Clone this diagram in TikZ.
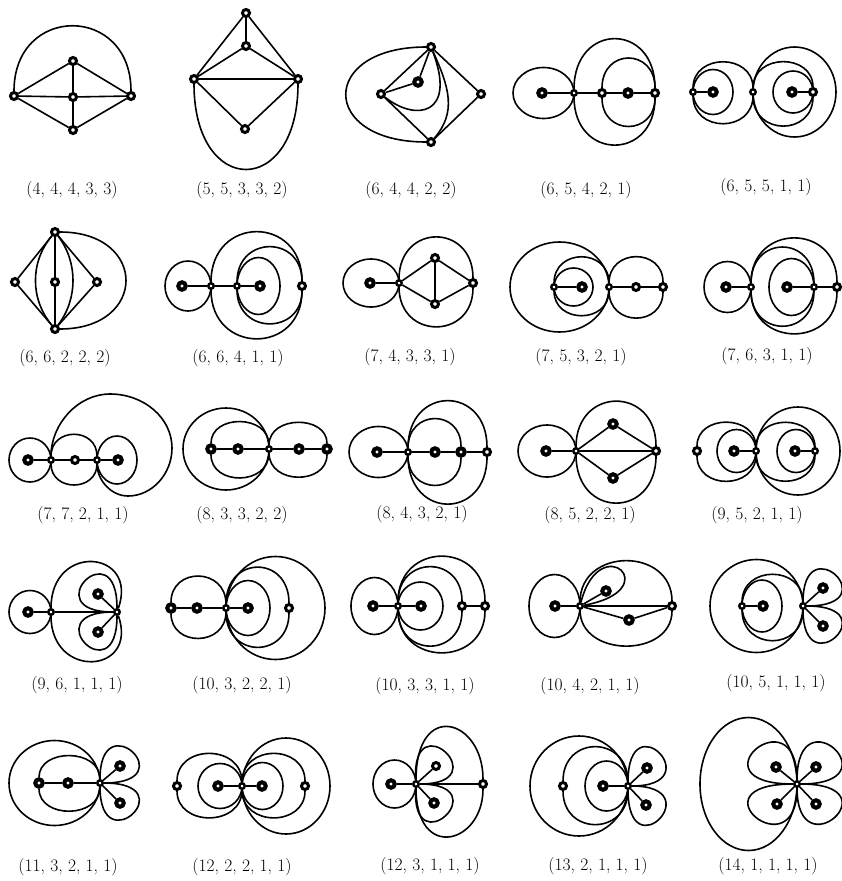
\documentclass[tikz,border=0pt]{standalone}
\pgfdeclarelayer{edges}
\pgfsetlayers{edges,main}
\begin{document}
\begin{tikzpicture}[x=1pt,y=-1pt,
    every path/.style={line width=1.6pt},
    vtx/.style={circle,draw,fill=white,line width=3pt,inner sep=0pt,minimum size=7pt},
    leaf/.style={vtx,line width=4pt,minimum size=7.5pt},
    hub/.style={vtx,line width=2.4pt,minimum size=5.5pt},
    lbl/.style={font=\fontsize{17.5}{21}\selectfont}]
  \useasboundingbox (0,0) rectangle (841,881);

  % (4, 4, 4, 3, 3)
  \node[vtx] (v1l) at (14,96) {};
  \node[vtx] (v1t) at (73,61) {};
  \node[vtx] (v1c) at (73,97) {};
  \node[vtx] (v1r) at (131,96) {};
  \node[vtx] (v1b) at (73,130) {};
  \node[lbl] (t1) at (72,190) {(4, 4, 4, 3, 3)};
  \begin{pgfonlayer}{edges}
    \draw (v1l) -- (v1t) -- (v1r) -- (v1b) -- (v1l) -- (v1c) -- (v1r);
    \draw (v1t) -- (v1c) -- (v1b);
    \draw (v1l) .. controls +(0,-92) and +(0,-92) .. (v1r);
  \end{pgfonlayer}

  % (5, 5, 3, 3, 2)
  \node[vtx] (v2t) at (246,13) {};
  \node[vtx] (v2m) at (246,46) {};
  \node[vtx] (v2l) at (194,79) {};
  \node[vtx] (v2r) at (298,79) {};
  \node[vtx] (v2b) at (245,129) {};
  \node[lbl] (t2) at (242,190) {(5, 5, 3, 3, 2)};
  \begin{pgfonlayer}{edges}
    \draw (v2l) -- (v2t) -- (v2r) -- (v2m) -- (v2l) -- (v2r) -- (v2b) -- (v2l);
    \draw (v2t) -- (v2m);
    \draw (v2l) .. controls +(0,119) and +(0,119) .. (v2r);
  \end{pgfonlayer}

  % (6, 4, 4, 2, 2)
  \node[vtx] (v3t) at (431,47) {};
  \node[leaf] (v3i) at (418,82) {};
  \node[vtx] (v3l) at (381,94) {};
  \node[vtx] (v3r) at (481,94) {};
  \node[vtx] (v3b) at (431,142) {};
  \node[lbl] (t3) at (411,190) {(6, 4, 4, 2, 2)};
  \begin{pgfonlayer}{edges}
    \draw (v3l) -- (v3t) -- (v3r) -- (v3b) -- (v3l) -- (v3i) -- (v3t);
    \draw (v3l) .. controls +(35,28) and +(26,68) .. (v3t);
    \draw (v3t) .. controls +(18,40) and +(26,-30) .. (v3b);
    \draw (v3t) .. controls +(-112,0) and +(-112,0) .. (v3b);
  \end{pgfonlayer}

  % (6, 5, 4, 2, 1)
  \node[leaf] (v4a) at (542,93) {};
  \node[hub] (v4b) at (574,93) {};
  \node[vtx] (v4c) at (602,93) {};
  \node[leaf] (v4d) at (628,93) {};
  \node[vtx] (v4e) at (655,93) {};
  \node[lbl] (t4) at (586,190) {(6, 5, 4, 2, 1)};
  \begin{pgfonlayer}{edges}
    \draw (v4a) -- (v4b) -- (v4c) -- (v4d) -- (v4e);
    \draw (v4b.center) arc[start angle=0,delta angle=360,x radius=30.5,y radius=25.5];
    \draw (v4b) .. controls +(0,-71) and +(0,-71) .. (v4e);
    \draw (v4b) .. controls +(0,68) and +(0,68) .. (v4e);
    \draw (v4c) .. controls +(0,-45) and +(0,-45) .. (v4e);
    \draw (v4c) .. controls +(0,43) and +(0,43) .. (v4e);
  \end{pgfonlayer}

  % (6, 5, 5, 1, 1)
  \node[hub] (v5a) at (693,92) {};
  \node[leaf] (v5b) at (713,92) {};
  \node[hub] (v5c) at (753,92) {};
  \node[leaf] (v5d) at (792,92) {};
  \node[vtx] (v5e) at (813,92) {};
  \node[lbl] (t5) at (766,187) {(6, 5, 5, 1, 1)};
  \begin{pgfonlayer}{edges}
    \draw (v5a) -- (v5b);
    \draw (v5d) -- (v5e);
    \draw (v5a.center) arc[start angle=180,delta angle=360,x radius=20,y radius=22.5];
    \draw (v5a) .. controls +(0,-39) and +(0,-39) .. (v5c);
    \draw (v5a) .. controls +(0,41) and +(0,41) .. (v5c);
    \draw (v5e.center) arc[start angle=0,delta angle=360,x radius=20,y radius=21];
    \draw (v5c) .. controls +(0,-39) and +(0,-39) .. (v5e);
    \draw (v5c) .. controls +(0,44) and +(0,44) .. (v5e);
    \draw (v5c.center) arc[start angle=180,delta angle=360,x radius=41.5,y radius=45];
  \end{pgfonlayer}

  % (6, 6, 2, 2, 2)
  \node[vtx] (v6t) at (55,232) {};
  \node[vtx] (v6b) at (55,329) {};
  \node[vtx] (v6l) at (15,282) {};
  \node[vtx] (v6m) at (55,282) {};
  \node[vtx] (v6r) at (97,282) {};
  \node[lbl] (t6) at (65,358) {(6, 6, 2, 2, 2)};
  \begin{pgfonlayer}{edges}
    \draw (v6t) -- (v6l) -- (v6b) -- (v6r) -- (v6t) -- (v6m) -- (v6b);
    \draw (v6t) .. controls +(-25,30) and +(-25,-30) .. (v6b);
    \draw (v6t) .. controls +(23,30) and +(23,-30) .. (v6b);
    \draw (v6t) .. controls +(93,0) and +(93,0) .. (v6b);
  \end{pgfonlayer}

  % (6, 6, 4, 1, 1)
  \node[leaf] (v7a) at (182,286) {};
  \node[hub] (v7b) at (211,286) {};
  \node[hub] (v7c) at (237,286) {};
  \node[leaf] (v7d) at (260,286) {};
  \node[vtx] (v7e) at (302,286) {};
  \node[lbl] (t7) at (238,358) {(6, 6, 4, 1, 1)};
  \begin{pgfonlayer}{edges}
    \draw (v7a) -- (v7b) -- (v7c) -- (v7d);
    \draw (v7b.center) arc[start angle=0,delta angle=360,x radius=23,y radius=25];
    \draw (v7b) .. controls +(0,-71) and +(0,-71) .. (v7e);
    \draw (v7b) .. controls +(0,69) and +(0,69) .. (v7e);
    \draw (v7c) .. controls +(0,-51) and +(0,-51) .. (v7e);
    \draw (v7c) .. controls +(0,49) and +(0,49) .. (v7e);
    \draw (v7c.center) arc[start angle=180,delta angle=360,x radius=21.5,y radius=28.5];
  \end{pgfonlayer}

  % (7, 4, 3, 3, 1)
  \node[leaf] (v8a) at (370,283) {};
  \node[hub] (v8b) at (399,283) {};
  \node[vtx] (v8t) at (435,258) {};
  \node[vtx] (v8o) at (435,304) {};
  \node[vtx] (v8r) at (473,283) {};
  \node[lbl] (t8) at (410,357) {(7, 4, 3, 3, 1)};
  \begin{pgfonlayer}{edges}
    \draw (v8a) -- (v8b) -- (v8t) -- (v8r) -- (v8o) -- (v8b);
    \draw (v8t) -- (v8o);
    \draw (v8b.center) arc[start angle=0,delta angle=360,x radius=28,y radius=24];
    \draw (v8b) .. controls +(0,-60) and +(0,-60) .. (v8r);
    \draw (v8b) .. controls +(0,57) and +(0,57) .. (v8r);
  \end{pgfonlayer}

  % (7, 5, 3, 2, 1)
  \node[hub] (v9a) at (554,287) {};
  \node[leaf] (v9b) at (582,287) {};
  \node[hub] (v9c) at (609,287) {};
  \node[vtx] (v9d) at (636,287) {};
  \node[vtx] (v9e) at (663,287) {};
  \node[lbl] (t9) at (581,357) {(7, 5, 3, 2, 1)};
  \begin{pgfonlayer}{edges}
    \draw (v9a) -- (v9b);
    \draw (v9c) -- (v9d) -- (v9e);
    \draw (v9c.center) arc[start angle=0,delta angle=360,x radius=49.5,y radius=45];
    \draw (v9a) .. controls +(0,-39) and +(0,-39) .. (v9c);
    \draw (v9a) .. controls +(0,37) and +(0,37) .. (v9c);
    \draw (v9a.center) arc[start angle=180,delta angle=360,x radius=19.5,y radius=19];
    \draw (v9c) .. controls +(0,-39) and +(0,-39) .. (v9e);
    \draw (v9c) .. controls +(0,40) and +(0,40) .. (v9e);
  \end{pgfonlayer}

  % (7, 6, 3, 1, 1)
  \node[leaf] (v10a) at (726,287) {};
  \node[hub] (v10b) at (751,287) {};
  \node[leaf] (v10c) at (787,287) {};
  \node[hub] (v10d) at (814,287) {};
  \node[vtx] (v10e) at (837,287) {};
  \node[lbl] (t10) at (767,356) {(7, 6, 3, 1, 1)};
  \begin{pgfonlayer}{edges}
    \draw (v10a) -- (v10b);
    \draw (v10c) -- (v10d) -- (v10e);
    \draw (v10b.center) arc[start angle=0,delta angle=360,x radius=23.5,y radius=25.5];
    \draw (v10b) .. controls +(0,-64) and +(0,-64) .. (v10e);
    \draw (v10b) .. controls +(0,61) and +(0,61) .. (v10e);
    \draw (v10b) .. controls +(0,-52) and +(0,-52) .. (v10d);
    \draw (v10b) .. controls +(0,51) and +(0,51) .. (v10d);
    \draw (v10d.center) arc[start angle=0,delta angle=360,x radius=22.5,y radius=28.5];
  \end{pgfonlayer}

  % (7, 7, 2, 1, 1)
  \node[leaf] (v11a) at (28,460) {};
  \node[hub] (v11b) at (51,460) {};
  \node[vtx] (v11c) at (75,460) {};
  \node[hub] (v11d) at (97,460) {};
  \node[leaf] (v11e) at (118,460) {};
  \node[lbl] (t11) at (83,515) {(7, 7, 2, 1, 1)};
  \begin{pgfonlayer}{edges}
    \draw (v11a) -- (v11b) -- (v11c) -- (v11d) -- (v11e);
    \draw (v11b.center) arc[start angle=0,delta angle=360,x radius=21,y radius=22];
    \draw (v11b) .. controls +(0,-33) and +(0,-33) .. (v11d);
    \draw (v11b) .. controls +(0,32) and +(0,32) .. (v11d);
    \draw (v11d.center) arc[start angle=180,delta angle=360,x radius=20,y radius=24];
    \draw (v11b) .. controls +(0,-36) and +(-32,0) .. (110,394)
      .. controls +(34,0) and +(0,-30) .. (172,448)
      .. controls +(0,26) and +(24,0) .. (128,496)
      .. controls +(-17,0) and +(0,20) .. (v11d);
  \end{pgfonlayer}

  % (8, 3, 3, 2, 2)
  \node[leaf] (v12a) at (211,449) {};
  \node[leaf] (v12b) at (238,449) {};
  \node[hub] (v12c) at (269,449) {};
  \node[leaf] (v12d) at (299,449) {};
  \node[leaf] (v12e) at (327,449) {};
  \node[lbl] (t12) at (242,515) {(8, 3, 3, 2, 2)};
  \begin{pgfonlayer}{edges}
    \draw (v12a) -- (v12b) -- (v12c) -- (v12d) -- (v12e);
    \draw (v12c.center) arc[start angle=0,delta angle=360,x radius=43,y radius=41];
    \draw (v12a) .. controls +(0,-35) and +(0,-35) .. (v12c);
    \draw (v12a) .. controls +(0,37) and +(0,37) .. (v12c);
    \draw (v12c) .. controls +(0,-34) and +(0,-34) .. (v12e);
    \draw (v12c) .. controls +(0,36) and +(0,36) .. (v12e);
  \end{pgfonlayer}

  % (8, 4, 3, 2, 1)
  \node[leaf] (v13a) at (377,452) {};
  \node[hub] (v13b) at (408,452) {};
  \node[leaf] (v13c) at (435,452) {};
  \node[leaf] (v13d) at (461,452) {};
  \node[vtx] (v13e) at (487,452) {};
  \node[lbl] (t13) at (422,514) {(8, 4, 3, 2, 1)};
  \begin{pgfonlayer}{edges}
    \draw (v13a) -- (v13b) -- (v13c) -- (v13d) -- (v13e);
    \draw (v13b.center) arc[start angle=0,delta angle=360,x radius=29.5,y radius=25.5];
    \draw (v13b) .. controls +(0,-43) and +(0,-43) .. (v13d);
    \draw (v13b) .. controls +(0,43) and +(0,43) .. (v13d);
    \draw (v13b) .. controls +(0,-67) and +(0,-67) .. (v13e);
    \draw (v13b) .. controls +(0,68) and +(0,68) .. (v13e);
  \end{pgfonlayer}

  % (8, 5, 2, 2, 1)
  \node[leaf] (v14a) at (546,451) {};
  \node[hub] (v14b) at (576,451) {};
  \node[leaf] (v14t) at (613,424) {};
  \node[leaf] (v14o) at (613,478) {};
  \node[vtx] (v14r) at (656,451) {};
  \node[lbl] (t14) at (590,515) {(8, 5, 2, 2, 1)};
  \begin{pgfonlayer}{edges}
    \draw (v14a) -- (v14b) -- (v14r);
    \draw (v14b) -- (v14t) -- (v14r) -- (v14o) -- (v14b);
    \draw (v14b.center) arc[start angle=0,delta angle=360,x radius=29,y radius=26];
    \draw (v14b) .. controls +(0,-65) and +(0,-65) .. (v14r);
    \draw (v14b) .. controls +(0,68) and +(0,68) .. (v14r);
  \end{pgfonlayer}

  % (9, 5, 2, 1, 1)
  \node[vtx] (v15a) at (697,451) {};
  \node[leaf] (v15b) at (734,451) {};
  \node[hub] (v15c) at (756,451) {};
  \node[leaf] (v15d) at (795,451) {};
  \node[hub] (v15e) at (815,451) {};
  \node[lbl] (t15) at (757,515) {(9, 5, 2, 1, 1)};
  \begin{pgfonlayer}{edges}
    \draw (v15b) -- (v15c);
    \draw (v15d) -- (v15e);
    \draw (v15a) .. controls +(0,-37) and +(0,-37) .. (v15c);
    \draw (v15a) .. controls +(0,39) and +(0,39) .. (v15c);
    \draw (v15c.center) arc[start angle=0,delta angle=360,x radius=19.5,y radius=21.5];
    \draw (v15c.center) arc[start angle=180,delta angle=360,x radius=42,y radius=44];
    \draw (v15c) .. controls +(0,-37) and +(0,-37) .. (v15e);
    \draw (v15c) .. controls +(0,39) and +(0,39) .. (v15e);
    \draw (v15e.center) arc[start angle=0,delta angle=360,x radius=19,y radius=21.5];
  \end{pgfonlayer}

  % (9, 6, 1, 1, 1)
  \node[leaf] (v16a) at (28,612) {};
  \node[hub] (v16b) at (51,612) {};
  \node[hub] (v16c) at (117,612) {};
  \node[leaf] (v16p) at (98,594) {};
  \node[leaf] (v16q) at (98,632) {};
  \node[lbl] (t16) at (77,685) {(9, 6, 1, 1, 1)};
  \begin{pgfonlayer}{edges}
    \draw (v16a) -- (v16b) -- (v16c);
    \draw (v16c) -- (v16p);
    \draw (v16c) -- (v16q);
    \draw (v16b.center) arc[start angle=0,delta angle=360,x radius=21,y radius=21.5];
    \draw (v16b) .. controls +(0,-70) and +(22,-62) .. (v16c);
    \draw (v16b) .. controls +(0,68) and +(22,62) .. (v16c);
    \draw (v16c) .. controls +(-83,0) and +(0,-83) .. (v16c);
    \draw (v16c) .. controls +(-83,0) and +(0,83) .. (v16c);
  \end{pgfonlayer}

  % (10, 3, 2, 2, 1)
  \node[leaf] (v17a) at (171,608) {};
  \node[leaf] (v17b) at (197,608) {};
  \node[hub] (v17c) at (226,608) {};
  \node[leaf] (v17d) at (248,608) {};
  \node[vtx] (v17e) at (289,608) {};
  \node[lbl] (t17) at (242,685) {(10, 3, 2, 2, 1)};
  \begin{pgfonlayer}{edges}
    \draw (v17a) -- (v17b) -- (v17c) -- (v17d);
    \draw (v17a) .. controls +(0,-41) and +(0,-41) .. (v17c);
    \draw (v17a) .. controls +(0,39) and +(0,39) .. (v17c);
    \draw (v17c.center) arc[start angle=180,delta angle=360,x radius=22,y radius=27.5];
    \draw (v17c) .. controls +(0,-53) and +(0,-53) .. (v17e);
    \draw (v17c) .. controls +(0,51) and +(0,51) .. (v17e);
    \draw (v17c.center) arc[start angle=180,delta angle=360,x radius=49.5,y radius=51.5];
  \end{pgfonlayer}

  % (10, 3, 3, 1, 1)
  \node[leaf] (v18a) at (373,606) {};
  \node[hub] (v18b) at (398,606) {};
  \node[leaf] (v18c) at (421,606) {};
  \node[vtx] (v18d) at (462,606) {};
  \node[vtx] (v18e) at (485,606) {};
  \node[lbl] (t18) at (425,686) {(10, 3, 3, 1, 1)};
  \begin{pgfonlayer}{edges}
    \draw (v18a) -- (v18b) -- (v18c);
    \draw (v18d) -- (v18e);
    \draw (v18b.center) arc[start angle=0,delta angle=360,x radius=23.5,y radius=28.5];
    \draw (v18b.center) arc[start angle=180,delta angle=360,x radius=22.5,y radius=24];
    \draw (v18b) .. controls +(0,-51) and +(0,-51) .. (v18d);
    \draw (v18b) .. controls +(0,52) and +(0,52) .. (v18d);
    \draw (v18b) .. controls +(0,-65) and +(0,-65) .. (v18e);
    \draw (v18b) .. controls +(0,61) and +(0,61) .. (v18e);
  \end{pgfonlayer}

  % (10, 4, 2, 1, 1)
  \node[leaf] (v19a) at (555,606) {};
  \node[hub] (v19b) at (580,606) {};
  \node[leaf] (v19p) at (606,591) {};
  \node[leaf] (v19q) at (629,620) {};
  \node[vtx] (v19r) at (672,606) {};
  \node[lbl] (t19) at (590,686) {(10, 4, 2, 1, 1)};
  \begin{pgfonlayer}{edges}
    \draw (v19a) -- (v19b) -- (v19r);
    \draw (v19b) -- (v19p);
    \draw (v19b) -- (v19q) -- (v19r);
    \draw (v19b.center) arc[start angle=0,delta angle=360,x radius=25.5,y radius=31.5];
    \draw (v19b) .. controls +(20,-78) and +(88,-16) .. (v19b);
    \draw (v19b) .. controls +(0,-59) and +(0,-59) .. (v19r);
    \draw (v19b) .. controls +(0,52) and +(0,52) .. (v19r);
  \end{pgfonlayer}

  % (10, 5, 1, 1, 1)
  \node[hub] (v20a) at (742,606) {};
  \node[leaf] (v20b) at (763,606) {};
  \node[hub] (v20c) at (803,606) {};
  \node[leaf] (v20p) at (823,588) {};
  \node[leaf] (v20q) at (823,626) {};
  \node[lbl] (t20) at (776,683) {(10, 5, 1, 1, 1)};
  \begin{pgfonlayer}{edges}
    \draw (v20a) -- (v20b);
    \draw (v20c) -- (v20p);
    \draw (v20c) -- (v20q);
    \draw (v20a.center) arc[start angle=180,delta angle=360,x radius=20,y radius=26];
    \draw (v20a) .. controls +(0,-41) and +(0,-41) .. (v20c);
    \draw (v20a) .. controls +(0,45) and +(0,45) .. (v20c);
    \draw (v20c.center) arc[start angle=0,delta angle=360,x radius=46.5,y radius=46.5];
    \draw (v20c) .. controls +(0,-81) and +(86,0) .. (v20c);
    \draw (v20c) .. controls +(0,81) and +(86,0) .. (v20c);
  \end{pgfonlayer}

  % (11, 3, 2, 1, 1)
  \node[leaf] (v21a) at (39,783) {};
  \node[leaf] (v21b) at (68,783) {};
  \node[hub] (v21c) at (100,783) {};
  \node[leaf] (v21p) at (120,766) {};
  \node[leaf] (v21q) at (120,803) {};
  \node[lbl] (t21) at (68,867) {(11, 3, 2, 1, 1)};
  \begin{pgfonlayer}{edges}
    \draw (v21a) -- (v21b) -- (v21c);
    \draw (v21c) -- (v21p);
    \draw (v21c) -- (v21q);
    \draw (v21a) .. controls +(0,-35) and +(0,-35) .. (v21c);
    \draw (v21a) .. controls +(0,36) and +(0,36) .. (v21c);
    \draw (v21c.center) arc[start angle=0,delta angle=360,x radius=45.5,y radius=42.5];
    \draw (v21c) .. controls +(0,-81) and +(86,0) .. (v21c);
    \draw (v21c) .. controls +(0,81) and +(86,0) .. (v21c);
  \end{pgfonlayer}

  % (12, 2, 2, 1, 1)
  \node[vtx] (v22a) at (177,786) {};
  \node[leaf] (v22b) at (218,786) {};
  \node[hub] (v22c) at (242,786) {};
  \node[leaf] (v22d) at (262,786) {};
  \node[vtx] (v22e) at (305,786) {};
  \node[lbl] (t22) at (242,867) {(12, 2, 2, 1, 1)};
  \begin{pgfonlayer}{edges}
    \draw (v22b) -- (v22c) -- (v22d);
    \draw (v22a) .. controls +(0,-42) and +(0,-42) .. (v22c);
    \draw (v22a) .. controls +(0,41) and +(0,41) .. (v22c);
    \draw (v22c.center) arc[start angle=0,delta angle=360,x radius=22,y radius=22.5];
    \draw (v22c.center) arc[start angle=180,delta angle=360,x radius=20.5,y radius=23.5];
    \draw (v22c) .. controls +(0,-42) and +(0,-42) .. (v22e);
    \draw (v22c) .. controls +(0,41) and +(0,41) .. (v22e);
    \draw (v22c.center) arc[start angle=180,delta angle=360,x radius=44,y radius=48];
  \end{pgfonlayer}

  % (12, 3, 1, 1, 1)
  \node[leaf] (v23a) at (391,784) {};
  \node[hub] (v23c) at (416,784) {};
  \node[vtx] (v23p) at (436,766) {};
  \node[leaf] (v23q) at (434,803) {};
  \node[vtx] (v23e) at (483,784) {};
  \node[lbl] (t23) at (430,866) {(12, 3, 1, 1, 1)};
  \begin{pgfonlayer}{edges}
    \draw (v23a) -- (v23c) -- (v23e);
    \draw (v23c) -- (v23p);
    \draw (v23c) -- (v23q);
    \draw (v23c.center) arc[start angle=0,delta angle=360,x radius=21.5,y radius=24];
    \draw (v23c) .. controls +(-5,-83) and +(83,0) .. (v23c);
    \draw (v23c) .. controls +(-5,83) and +(83,0) .. (v23c);
    \draw (v23c) .. controls +(0,-85) and +(0,-65) .. (v23e);
    \draw (v23c) .. controls +(0,78) and +(0,60) .. (v23e);
  \end{pgfonlayer}

  % (13, 2, 1, 1, 1)
  \node[vtx] (v24a) at (563,786) {};
  \node[leaf] (v24b) at (603,786) {};
  \node[hub] (v24c) at (628,786) {};
  \node[leaf] (v24p) at (647,768) {};
  \node[leaf] (v24q) at (646,805) {};
  \node[lbl] (t24) at (598,866) {(13, 2, 1, 1, 1)};
  \begin{pgfonlayer}{edges}
    \draw (v24b) -- (v24c);
    \draw (v24c) -- (v24p);
    \draw (v24c) -- (v24q);
    \draw (v24c.center) arc[start angle=0,delta angle=360,x radius=21.5,y radius=25];
    \draw (v24a) .. controls +(0,-51) and +(0,-51) .. (v24c);
    \draw (v24a) .. controls +(0,50) and +(0,50) .. (v24c);
    \draw (v24c.center) arc[start angle=0,delta angle=360,x radius=49,y radius=50];
    \draw (v24c) .. controls +(0,-86) and +(83,0) .. (v24c);
    \draw (v24c) .. controls +(0,86) and +(83,0) .. (v24c);
  \end{pgfonlayer}

  % (14, 1, 1, 1, 1)
  \node[hub] (v25c) at (797,784) {};
  \node[leaf] (v25p) at (776,767) {};
  \node[leaf] (v25q) at (816,767) {};
  \node[leaf] (v25r) at (777,804) {};
  \node[leaf] (v25s) at (816,804) {};
  \node[lbl] (t25) at (768,866) {(14, 1, 1, 1, 1)};
  \begin{pgfonlayer}{edges}
    \draw (v25c) -- (v25p);
    \draw (v25c) -- (v25q);
    \draw (v25c) -- (v25r);
    \draw (v25c) -- (v25s);
    \draw (v25c) .. controls +(-108,0) and +(0,-92) .. (v25c);
    \draw (v25c) .. controls +(99,0) and +(0,-92) .. (v25c);
    \draw (v25c) .. controls +(-108,0) and +(0,88) .. (v25c);
    \draw (v25c) .. controls +(99,0) and +(0,88) .. (v25c);
    \draw (v25c.center) arc[start angle=0,delta angle=360,x radius=48.5,y radius=66.5];
  \end{pgfonlayer}
\end{tikzpicture}
\end{document}
